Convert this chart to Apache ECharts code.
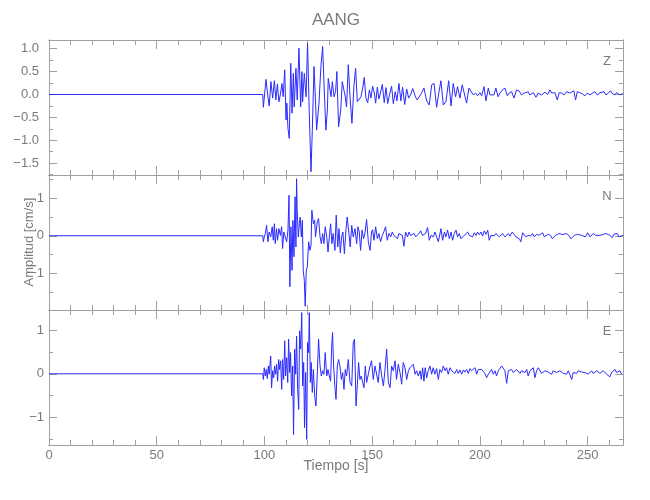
<!DOCTYPE html>
<html>
<head>
<meta charset="utf-8">
<script src="https://cdn.jsdelivr.net/npm/echarts@6/dist/echarts.min.js"></script>
<style>html,body{margin:0;padding:0;background:#fff}#c{width:650px;height:500px}</style>
</head>
<body>
<div id="c"></div>
<script>
// ---- Data (seconds, cm/s) ----
var zTime = [0,99.2,99.5,100.7,101.6,102.2,103.0,103.8,104.6,105.3,106.0,106.7,107.5,108.1,108.7,109.4,110.0,110.4,110.9,111.5,112.2,112.8,113.4,113.8,114.6,115.2,116.0,116.8,117.4,117.7,118.5,119.3,120.0,120.8,121.6,122.2,123.0,123.6,124.2,125.3,126.2,127.0,127.8,128.5,129.2,129.6,130.4,130.9,131.5,132.3,133.0,133.6,134.4,135.4,136.1,136.9,137.5,138.1,138.9,139.7,140.6,141.5,142.3,143.1,143.9,144.8,145.6,146.3,147.1,147.9,148.7,149.4,150.2,151.0,151.6,152.4,153.1,153.9,154.7,155.6,156.4,157.2,158.2,159.0,159.8,160.7,161.5,162.4,163.3,164.1,165.1,166.0,166.9,167.8,168.8,169.4,170.2,170.9,172.9,174.0,175.3,176.5,177.6,178.7,179.9,181.0,181.9,183.0,184.2,185.5,186.6,187.6,188.7,189.6,190.7,191.8,192.7,193.8,194.9,195.8,196.9,198.0,198.9,200.0,200.8,201.9,202.8,203.9,204.6,205.4,206.5,207.4,208.4,209.3,210.5,211.6,212.7,213.6,214.7,215.8,217.0,218.1,219.3,220.4,221.4,222.4,223.2,224.8,226.0,227.1,227.9,228.6,230.2,231.4,232.5,233.3,234.0,234.8,235.9,236.8,237.9,239.0,240.2,241.8,242.6,243.6,244.4,245.2,246.4,247.6,248.7,249.8,251.1,252.3,253.4,254.5,255.7,256.6,257.6,258.5,259.6,260.6,261.6,262.7,263.4,264.2,265.0,266.4];
var zAmp  = [0,0,-0.28,0.33,-0.05,-0.25,0.28,-0.08,0.30,-0.12,0.23,-0.16,0.03,0.24,-0.05,0.54,-0.56,-0.19,-0.74,-0.96,0.68,-0.41,0.46,-0.27,0.57,-0.12,1.01,-0.27,0.50,-0.16,0.46,-0.05,1.12,-0.41,-1.69,-0.78,0.61,-0.05,-0.78,-0.19,0.61,1.05,0.03,-0.78,-0.34,0.35,0.32,-0.05,0.28,-0.05,0.06,0.50,-0.71,-0.34,0.28,0.32,-0.05,-0.27,0.65,-0.05,-0.63,0.17,0.57,-0.16,-0.12,-0.05,0.14,0.37,-0.08,-0.18,0.10,-0.08,0.18,0.03,-0.19,0.16,-0.10,0.05,0.22,-0.18,0.15,-0.20,0.03,0.18,-0.20,0.06,-0.14,0.24,-0.14,0.16,-0.22,0.12,-0.08,-0.01,0.13,0.15,-0.07,-0.12,0.03,0.14,-0.14,-0.23,0.21,0.24,-0.28,0.06,0.30,-0.23,-0.16,0.30,-0.25,0.24,-0.05,0.17,-0.08,0.21,0.03,-0.19,0.14,0.11,-0.01,0.03,-0.03,0.04,-0.03,0.17,-0.14,0.14,-0.01,-0.05,-0.01,0.14,-0.05,0.03,0.10,0.14,-0.03,0.03,0.06,-0.08,0.10,0.08,-0.01,0.03,0.04,0.06,-0.01,0.04,-0.06,0.03,0.06,-0.01,0.05,0.00,0.10,0.03,0.01,0.04,-0.12,0.04,0.03,-0.01,0.06,0.03,0.06,0.08,-0.12,0.06,0.04,0.01,-0.03,0.03,-0.01,0.03,0.06,-0.01,0.04,0.01,0.06,-0.01,0.03,0.08,0.01,-0.01,0.04,0.03,-0.01,0.02];

var nTime = [0,99.2,99.5,99.9,100.4,101.0,101.6,102.2,102.9,103.6,104.1,104.6,105.0,105.6,106.1,106.7,107.4,108.0,108.4,109.0,109.7,110.3,110.9,111.4,111.8,112.3,112.8,113.2,113.7,114.2,114.6,114.9,115.2,115.7,116.2,116.6,117.1,117.6,118.0,118.5,118.9,119.4,119.9,120.5,121.1,121.6,122.0,122.7,123.3,123.7,124.5,125.1,125.8,126.4,127.0,127.6,128.2,128.9,129.5,130.1,130.7,131.3,131.9,132.7,133.3,134.0,134.6,135.2,135.8,136.4,137.1,137.8,138.4,139.2,139.8,140.5,141.2,142.0,142.8,143.4,144.0,144.6,145.3,146.0,146.6,147.4,148.2,149.0,149.7,150.2,150.8,151.6,152.4,153.1,153.9,154.7,155.5,156.2,157.0,157.8,158.6,159.3,160.1,160.9,161.7,162.4,163.2,164.0,164.7,165.5,166.4,167.1,167.8,168.6,169.4,170.2,170.9,171.7,172.5,173.3,174.0,174.8,175.7,176.5,177.3,178.4,179.1,179.9,180.7,181.9,182.7,183.5,184.2,185.0,185.8,186.6,187.3,188.1,188.9,189.6,190.4,191.2,192.0,192.7,193.5,194.3,195.1,195.8,196.6,197.4,198.2,198.9,199.7,200.5,201.2,202.0,202.8,203.6,204.3,205.1,205.9,206.7,207.4,208.2,209.0,209.8,210.5,211.6,212.4,213.2,213.9,215.0,215.9,216.7,217.5,218.3,219.0,219.8,220.6,221.4,222.4,223.5,224.4,225.2,226.3,227.4,228.3,229.1,229.9,230.6,231.7,232.8,233.6,234.4,235.1,236.1,237.1,238.2,239.1,240.2,241.3,242.2,243.0,243.8,244.6,245.3,246.1,247.2,248.0,249.0,250.0,251.1,251.8,252.6,253.7,254.6,255.7,256.8,257.7,258.5,259.3,260.3,261.4,262.2,263.0,263.7,264.5,266.4];
var nAmp  = [0,0,-0.16,-0.03,0.06,0.28,-0.16,0.10,-0.03,0.24,-0.12,0.32,-0.21,0.19,-0.12,0.19,0.01,0.24,-0.34,0.10,0.15,-0.16,0.15,1.08,-1.36,0.24,-0.92,0.41,-0.56,1.04,-0.30,1.52,0.68,-0.03,0.32,0.50,-0.03,0.41,-0.92,-1.19,-1.88,-0.92,-0.83,-0.16,-0.39,-0.25,0.68,0.32,0.41,-0.03,0.37,0.46,-0.03,-0.21,0.06,-0.21,0.24,-0.03,-0.43,-0.03,0.32,-0.21,0.06,-0.39,0.55,-0.30,0.19,-0.46,-0.03,0.10,-0.48,0.15,0.50,0.06,-0.30,0.28,-0.03,0.19,-0.21,0.24,0.10,-0.39,0.15,-0.08,0.06,0.43,-0.16,-0.39,0.10,0.16,-0.12,0.24,-0.08,0.06,-0.16,0.01,0.12,0.24,-0.12,0.06,-0.03,0.10,0.01,0.06,-0.08,0.06,0.08,0.01,-0.28,0.10,-0.03,0.10,0.01,-0.03,0.06,-0.03,-0.08,0.06,0.13,0.01,-0.03,0.06,0.22,-0.12,0.01,-0.03,0.10,0.15,-0.16,0.19,-0.12,0.10,-0.03,0.15,-0.08,0.10,-0.12,0.06,0.15,-0.03,0.06,-0.08,-0.03,0.01,-0.01,0.10,0.01,0.06,-0.03,0.08,0.01,0.10,0.03,0.10,-0.01,0.13,0.04,0.15,-0.12,0.01,0.03,0.00,0.06,0.01,-0.03,-0.01,0.06,-0.03,-0.08,0.06,-0.01,0.10,0.13,-0.03,0.01,-0.08,-0.16,0.08,0.06,-0.03,0.01,-0.01,0.06,-0.03,0.04,0.01,0.06,0.08,-0.03,-0.01,0.04,0.01,-0.08,-0.10,0.01,0.04,0.06,0.03,0.01,0.06,0.01,-0.08,-0.08,0.01,0.06,0.04,-0.01,0.01,0.03,-0.03,0.08,-0.03,0.00,0.06,0.01,-0.03,0.01,0.03,0.01,0.06,0.04,0.01,-0.05,0.04,-0.01,0.06,-0.03,0.01];

var eTime = [0,99.2,99.5,99.9,100.4,100.9,101.3,101.8,102.2,102.9,103.3,103.8,104.3,104.7,105.2,105.6,106.1,106.6,107.0,107.5,108.0,108.4,108.9,109.4,109.8,110.3,110.8,111.2,111.7,112.1,112.6,113.1,113.5,114.0,114.5,114.9,115.4,115.9,116.3,116.8,117.3,117.7,118.2,118.6,119.1,119.6,120.0,120.5,120.8,121.3,121.7,122.2,122.7,123.3,123.9,124.5,125.1,125.8,126.4,127.0,127.6,128.2,128.9,129.5,130.1,130.7,131.2,131.6,132.1,132.7,133.2,133.8,134.4,135.0,135.7,136.3,136.9,137.5,138.1,138.9,139.7,140.5,141.2,141.8,142.5,143.1,143.7,144.3,144.9,145.6,146.2,146.8,147.4,148.2,149.0,149.7,150.5,151.3,152.1,152.8,153.6,154.4,155.2,155.9,156.7,157.5,158.3,159.0,159.8,160.6,161.3,162.1,162.9,163.7,164.4,165.2,166.0,166.8,167.5,168.3,169.1,169.9,170.6,171.4,172.2,172.8,173.4,174.0,174.6,175.3,176.0,176.8,177.6,178.3,179.1,179.9,180.7,181.4,182.2,183.0,183.8,184.5,185.3,186.1,186.9,187.6,188.4,189.2,189.9,190.7,191.5,192.3,193.0,193.8,194.6,195.4,196.1,196.9,197.7,198.5,199.2,200.0,200.8,201.6,202.3,203.1,203.9,204.6,205.4,206.2,207.0,207.7,208.5,209.3,210.1,210.8,211.6,212.4,213.2,213.9,214.7,215.5,216.2,217.0,217.8,218.6,219.3,220.1,220.9,221.7,222.4,223.2,224.0,224.8,225.5,226.3,227.1,227.8,228.6,229.4,230.2,230.9,231.7,232.5,233.3,234.0,234.8,235.6,236.4,237.1,237.9,238.7,239.5,240.2,241.0,241.8,242.6,243.3,244.1,244.9,245.6,246.4,247.2,248.0,248.7,249.5,250.3,251.1,251.8,252.6,253.4,254.2,254.9,255.7,256.5,257.2,258.0,258.8,259.6,260.3,261.1,261.9,262.7,263.4,264.2,265.0,265.8];
var eAmp  = [0,0,-0.13,0.14,-0.05,0.10,-0.11,0.18,-0.01,0.41,-0.32,0.07,-0.09,0.18,-0.01,0.22,-0.17,0.33,0.10,0.30,-0.36,0.33,-0.13,0.76,-0.05,0.37,-0.20,0.80,0.03,0.49,-0.51,0.18,-1.40,0.57,-0.01,0.87,-0.36,-0.82,0.99,0.57,1.41,-0.28,0.26,-1.24,0.03,-1.51,0.72,0.49,1.41,-0.20,0.26,-0.43,0.10,-0.51,-0.74,-0.01,0.80,0.18,-0.05,0.07,-0.01,0.49,-0.05,0.10,-0.05,-0.17,0.64,0.95,0.18,-0.32,-0.59,0.18,0.33,0.18,-0.13,0.03,-0.36,0.10,-0.05,0.33,-0.20,-0.28,0.72,0.80,-0.74,-0.24,0.26,-0.13,-0.05,-0.20,-0.32,0.18,-0.20,-0.01,0.18,0.30,-0.13,0.18,0.14,-0.20,0.26,-0.05,-0.28,0.07,0.57,-0.20,-0.32,0.18,0.07,0.30,-0.13,0.22,0.03,-0.24,0.26,0.14,-0.13,0.07,0.14,0.10,0.22,-0.01,0.07,-0.05,0.07,-0.13,0.14,-0.17,0.14,-0.09,0.07,0.18,-0.01,0.14,-0.01,0.12,-0.13,0.10,0.03,0.18,0.07,0.14,-0.01,0.14,0.07,0.10,0.01,0.10,0.01,0.09,-0.01,0.09,0.04,0.10,0.01,0.12,0.07,0.03,0.14,-0.01,0.10,0.07,0.10,0.14,0.01,-0.09,-0.01,0.04,0.10,-0.01,0.07,-0.05,0.07,0.10,0.18,0.22,0.07,-0.22,0.07,0.07,0.10,0.03,-0.01,0.10,0.14,0.01,0.07,0.09,0.03,0.10,-0.05,0.07,0.10,0.14,-0.09,0.07,0.14,0.10,0.01,-0.03,0.07,0.03,0.04,0.07,-0.01,0.07,0.05,0.03,-0.01,0.07,0.09,0.01,0.04,-0.01,0.07,0.04,-0.13,0.03,0.04,0.01,0.07,0.03,0.04,0.07,0.03,0.04,-0.01,0.03,0.07,0.01,0.04,0.07,0.04,0.01,0.04,0.07,0.03,-0.01,0.01,-0.07,0.03,0.07,0.10,0.03,0.04,0.07,-0.01];

var channelNames = ['Z', 'N', 'E'];
var yRanges = [[-1.76, 1.19], [-1.98, 1.62], [-1.64, 1.47]];
var yMajorTicks = [[-1.5,-1,-0.5,0,0.5,1], [-1,0,1], [-1,0,1]];
var yMinorTicks = [[-1.75,-1.25,-0.75,-0.25,0.25,0.75], [-1.5,-0.5,0.5,1.5], [-1.5,-0.5,0.5]];
var yDecimals = [1, 0, 0];
var xMajorTicks = [0,50,100,150,200,250];
var xMinorTicks = [10,20,30,40,60,70,80,90,110,120,130,140,160,170,180,190,210,220,230,240,260];
var xRange = [0, 266.4];
var titleText = 'AANG';
var xTitle = 'Tiempo [s]';
var yTitle = 'Amplitud [cm/s]';

// ---- Chart ----
function zip(t, v) { var out = []; for (var i = 0; i < t.length; i++) out.push([t[i], v[i]]); return out; }
function fmt(dec) { return function (v) { return v.toFixed(dec).replace('-', '\u2212'); }; }
var traces = [zip(zTime, zAmp), zip(nTime, nAmp), zip(eTime, eAmp)];

var AX = '#a0a0a0', TX = '#7a7a7a';
var FONT = '"Liberation Sans Narrow", "Liberation Sans", "DejaVu Sans", sans-serif';
var L = 49, R = 27, TOP = 40, H = 135;
var labelMargins = [10, 5, 5];

var grids = [], xAxes = [], yAxes = [], series = [];
for (var p = 0; p < 3; p++) {
  grids.push({ left: L, right: R, top: TOP + p * H, height: H, containLabel: false });
  var xi0 = xAxes.length;
  [['bottom', xMajorTicks, 9, p === 2], ['bottom', xMinorTicks, 5, false], ['top', xMajorTicks, 9, false], ['top', xMinorTicks, 5, false]].forEach(function (d) {
    xAxes.push({
      type: 'value', gridIndex: p, position: d[0], min: xRange[0], max: xRange[1],
      axisLine: { show: true, onZero: false, lineStyle: { color: AX, width: 1 } },
      axisTick: { show: true, inside: true, length: d[2], customValues: d[1], lineStyle: { color: AX } },
      axisLabel: { show: d[3], customValues: d[1], color: TX, fontSize: 13, fontFamily: FONT, margin: 4 },
      splitLine: { show: false }
    });
  });
  var yi0 = yAxes.length;
  var formatter = fmt(yDecimals[p]);
  var lm = labelMargins[p];
  [['left', yMajorTicks[p], 8, true], ['left', yMinorTicks[p], 4, false], ['right', yMajorTicks[p], 8, false], ['right', yMinorTicks[p], 4, false]].forEach(function (d) {
    yAxes.push({
      type: 'value', gridIndex: p, position: d[0], min: yRanges[p][0], max: yRanges[p][1],
      axisLine: { show: true, onZero: false, lineStyle: { color: AX, width: 1 } },
      axisTick: { show: true, inside: true, length: d[2], customValues: d[1], lineStyle: { color: AX } },
      axisLabel: { show: d[3], customValues: d[1], color: TX, fontSize: 13, fontFamily: FONT, margin: lm, formatter: formatter },
      splitLine: { show: false }
    });
  });
  series.push({
    type: 'line', xAxisIndex: xi0, yAxisIndex: yi0, data: traces[p], showSymbol: false, symbol: 'none',
    sampling: 'none', clip: true, lineStyle: { color: '#2a2aff', width: 1 }, emphasis: { disabled: true }
  });
}

var graphics = [
  { type: 'text', x: L + (650 - L - R) / 2, y: 20, style: { text: titleText, fill: TX, font: '17px ' + FONT, textAlign: 'center', textVerticalAlign: 'middle' } },
  { type: 'text', x: 336, y: 459, style: { text: xTitle, fill: TX, font: '14px ' + FONT, textAlign: 'center' } },
  { type: 'text', x: 29, y: 242, rotation: Math.PI / 2, style: { text: yTitle, fill: TX, font: '13px ' + FONT, textAlign: 'center', textVerticalAlign: 'middle' } }
];
for (var k = 0; k < 3; k++) {
  graphics.push({ type: 'text', x: 607, y: TOP + k * H + 21, style: { text: channelNames[k], fill: TX, font: '13px ' + FONT, textAlign: 'center', textVerticalAlign: 'middle' } });
}

var chart = echarts.init(document.getElementById('c'), null, { renderer: 'canvas' });
chart.setOption({
  animation: false,
  backgroundColor: '#ffffff',
  grid: grids, xAxis: xAxes, yAxis: yAxes, series: series, graphic: graphics
});
</script>
</body>
</html>
